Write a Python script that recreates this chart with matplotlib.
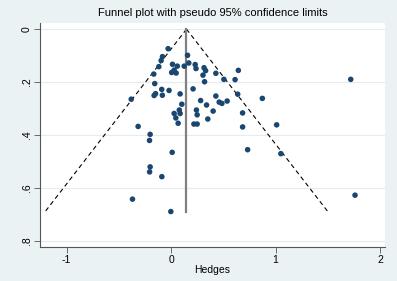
import numpy as np
import matplotlib.pyplot as plt

# study effect sizes (Hedges g) and standard errors
hedges = [-0.029, -0.083, -0.096, -0.118, -0.166, 0.157, 0.169, 0.013, 0.059, 0.125,
          0.029, 0.005, 0.048, 0.230, 0.238, 0.315, 0.330, 0.305, 0.320, 0.428,
          0.643, 0.505, 0.612, 1.719, -0.157, -0.149, -0.163, -0.090, -0.020, -0.084,
          0.086, 0.210, -0.382, 0.282, 0.339, 0.428, 0.460, 0.486, 0.536, 0.402,
          0.242, 0.249, 0.351, 0.218, 0.249, 0.637, 0.873, 0.684, 0.684, 1.010,
          0.102, 0.029, 0.078, 0.086, 0.045, 0.067, -0.316, -0.201, -0.207, 0.010,
          0.732, 1.050, -0.201, -0.206, -0.089, -0.370, -0.003, 1.760]
se = [0.074, 0.104, 0.119, 0.142, 0.170, 0.099, 0.128, 0.133, 0.140, 0.140,
      0.155, 0.164, 0.166, 0.134, 0.149, 0.146, 0.157, 0.174, 0.199, 0.167,
      0.156, 0.190, 0.191, 0.190, 0.206, 0.244, 0.251, 0.228, 0.232, 0.250,
      0.245, 0.226, 0.265, 0.270, 0.287, 0.253, 0.276, 0.281, 0.272, 0.310,
      0.306, 0.324, 0.340, 0.359, 0.359, 0.246, 0.262, 0.317, 0.370, 0.362,
      0.284, 0.319, 0.306, 0.319, 0.336, 0.356, 0.368, 0.398, 0.421, 0.466,
      0.456, 0.471, 0.521, 0.540, 0.558, 0.643, 0.690, 0.628]

pooled = 0.147
max_se = 0.69
xticks = [-1, 0, 1, 2]
yticks = [0, 0.2, 0.4, 0.6, 0.8]
ylabels = ["0", ".2", ".4", ".6", ".8"]

bg = "#eaf2f3"
navy = "#1a476f"

plt.rcParams['font.family'] = ['Liberation Sans', 'DejaVu Sans']

fig = plt.figure(figsize=(3.97, 2.81), dpi=100, facecolor=bg)
ax = fig.add_axes([0.1008, 0.121, 0.869, 0.797])
ax.set_facecolor("white")

for y in yticks:
    ax.axhline(y, color="#e4ecef", lw=0.8, zorder=0)

# pseudo 95% limits
s = np.array([0, max_se])
ax.plot(pooled - 1.96 * s, s, color="black", lw=0.8, ls=(0, (4, 3)), zorder=2)
ax.plot(pooled + 1.96 * s, s, color="black", lw=0.8, ls=(0, (4, 3)), zorder=2)
ax.plot([pooled, pooled], [0, max_se], color="#808080", lw=1.6, zorder=2)

ax.scatter(hedges, se, s=16, color=navy, edgecolors="none", zorder=3)

ax.set_xlim(-1.255, 2.047)
ax.set_ylim(0.824, -0.023)
ax.set_xticks(xticks)
ax.set_xticklabels([str(t) for t in xticks])
ax.set_yticks(yticks)
ax.set_yticklabels(ylabels, rotation=90, va="center")

for side in ["top", "right"]:
    ax.spines[side].set_visible(False)
for side in ["left", "bottom"]:
    ax.spines[side].set_color("#555555")
    ax.spines[side].set_linewidth(0.8)
ax.tick_params(direction="out", length=4, width=0.6, color="#555555",
               labelsize=7.5, pad=2)

ax.set_xlabel("Hedges", fontsize=7.5, labelpad=0)
ax.set_title("Funnel plot with pseudo 95% confidence limits", fontsize=8, pad=5)

fig.savefig("out.png", dpi=100, facecolor=bg)
